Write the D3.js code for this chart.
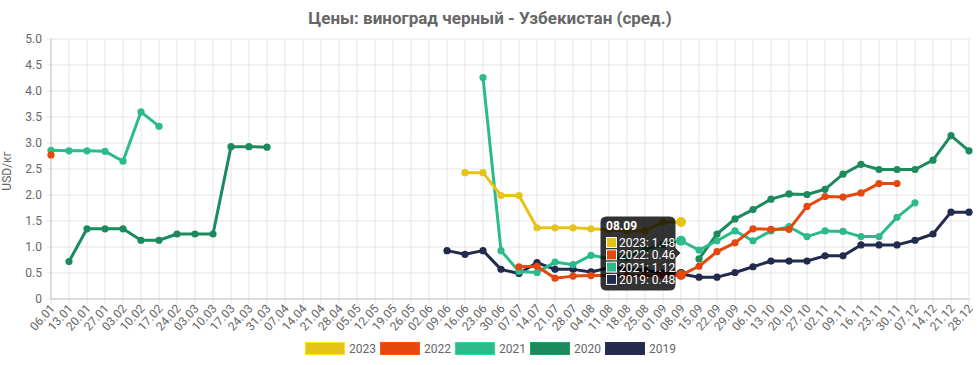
<!DOCTYPE html>
<html><head><meta charset="utf-8">
<script src="https://cdn.jsdelivr.net/npm/d3@7"></script>
<style>body{margin:0;background:#fff}svg{display:block;font-family:Roboto,"Noto Sans",sans-serif}</style>
</head><body><svg id="c" width="979" height="365"></svg>
<script>
const title = "Цены: виноград черный - Узбекистан (сред.)";
const yTitle = "USD/кг";
const categories = ["06.01","13.01","20.01","27.01","03.02","10.02","17.02","24.02","03.03","10.03","17.03","24.03","31.03","07.04","14.04","21.04","28.04","05.05","12.05","19.05","26.05","02.06","09.06","16.06","23.06","30.06","07.07","14.07","21.07","28.07","04.08","11.08","18.08","25.08","01.09","08.09","15.09","22.09","29.09","06.10","13.10","20.10","27.10","02.11","09.11","16.11","23.11","30.11","07.12","14.12","21.12","28.12"];
const yTicks = [0,0.5,1,1.5,2,2.5,3,3.5,4,4.5,5];
const _ = null;
// one value per category (null = no data)
const v2023 = [_,_,_,_,_,_,_,_,_,_,_,_,_,_,_,_,_,_,_,_,_,_,_,2.43,2.43,1.99,1.99,1.37,1.37,1.37,1.35,1.33,1.31,1.31,1.48,1.48,_,_,_,_,_,_,_,_,_,_,_,_,_,_,_,_];
const v2022 = [2.77,_,_,_,_,_,_,_,_,_,_,_,_,_,_,_,_,_,_,_,_,_,_,_,_,_,0.62,0.63,0.40,0.44,0.45,0.45,0.45,0.45,0.45,0.46,0.63,0.91,1.08,1.35,1.34,1.34,1.78,1.97,1.96,2.04,2.22,2.22,_,_,_,_];
const v2021 = [2.86,2.85,2.85,2.84,2.65,3.60,3.32,_,_,_,_,_,_,_,_,_,_,_,_,_,_,_,_,_,4.26,0.93,0.53,0.51,0.71,0.66,0.84,0.78,0.80,0.95,1.05,1.12,0.94,1.12,1.31,1.12,1.31,1.39,1.20,1.31,1.30,1.20,1.20,1.57,1.85,_,_,_];
const v2020 = [_,0.72,1.35,1.35,1.35,1.13,1.13,1.25,1.25,1.25,2.93,2.93,2.92,_,_,_,_,_,_,_,_,_,_,_,_,_,_,_,_,_,_,_,_,_,_,_,0.77,1.25,1.54,1.72,1.92,2.02,2.01,2.11,2.40,2.59,2.49,2.49,2.49,2.67,3.14,2.85];
const v2019 = [_,_,_,_,_,_,_,_,_,_,_,_,_,_,_,_,_,_,_,_,_,_,0.93,0.86,0.93,0.57,0.49,0.70,0.57,0.57,0.52,0.60,0.58,0.55,0.50,0.48,0.42,0.42,0.51,0.62,0.73,0.73,0.73,0.83,0.83,1.04,1.04,1.04,1.13,1.25,1.67,1.67];
const seriesNames = ["2023","2022","2021","2020","2019"];
const seriesColors = ["#e6c417","#e4480c","#2bbb8a","#1b8a5c","#232a4d"];
const seriesValues = [v2023,v2022,v2021,v2020,v2019];
const tooltipIndex = 35;
const tooltipValues = ["1.48","0.46","1.12","0.48"];
const tooltipNames = ["2023","2022","2021","2019"];
const tooltipColors = ["#e6c417","#e4480c","#2bbb8a","#232a4d"];

const svg = d3.select("#c");
const L = 51, R = 969, T = 39, B = 299;
const x = d3.scalePoint().domain(categories).range([L, R]);
const y = d3.scaleLinear().domain([0, 5]).range([B, T]);
const grid = "#e6e6e6", txt = "#666";

// title
svg.append("text").attr("x", 490).attr("y", 24).attr("text-anchor", "middle")
  .attr("font-size", 17).attr("font-weight", "bold").attr("fill", txt).text(title);

// grid
const g = svg.append("g");
g.selectAll(".vg").data(categories).join("line")
  .attr("x1", d => x(d)).attr("x2", d => x(d)).attr("y1", T).attr("y2", B + 5)
  .attr("stroke", grid).attr("stroke-width", 1);
g.selectAll(".hg").data(yTicks).join("line")
  .attr("x1", L - 5).attr("x2", R).attr("y1", d => y(d)).attr("y2", d => y(d))
  .attr("stroke", grid).attr("stroke-width", 1);
g.append("line").attr("x1", L).attr("x2", L).attr("y1", T).attr("y2", B).attr("stroke", "#c4c4c4");
g.append("line").attr("x1", L).attr("x2", R).attr("y1", B).attr("y2", B).attr("stroke", "#c4c4c4");

// y axis labels
const yAxis = d3.axisLeft(y).tickValues(yTicks).tickSize(0).tickPadding(9)
  .tickFormat(d => d === 0 ? "0" : d3.format(".1f")(d));
const ya = svg.append("g").attr("transform", `translate(${L},0)`).call(yAxis);
ya.select(".domain").remove();
ya.selectAll("text").attr("font-size", 12).attr("fill", txt).attr("font-family", "Roboto");

svg.append("text").attr("transform", `translate(11,${(T + B) / 2 + 2}) rotate(-90)`)
  .attr("text-anchor", "middle").attr("font-size", 12).attr("fill", txt).text(yTitle);

// x axis labels
const xAxis = d3.axisBottom(x).tickSize(0).tickPadding(0);
const xa = svg.append("g").attr("transform", `translate(0,${B})`).call(xAxis);
xa.select(".domain").remove();
xa.selectAll("text").attr("font-size", 12).attr("fill", txt).attr("font-family", "Roboto")
  .attr("text-anchor", "end").attr("dy", null).attr("y", 0)
  .attr("transform", "translate(4,10) rotate(-48)");

// series (draw 2019 first so 2023 is on top)
const line = d3.line().defined(d => d.v !== null).x(d => x(d.c)).y(d => y(d.v));
for (let s = seriesValues.length - 1; s >= 0; s--) {
  const data = categories.map((c, i) => ({ c, i, v: seriesValues[s][i] }));
  const sg = svg.append("g");
  sg.append("path").datum(data).attr("d", line).attr("fill", "none")
    .attr("stroke", seriesColors[s]).attr("stroke-width", 3).attr("stroke-linejoin", "round");
  sg.selectAll("circle").data(data.filter(d => d.v !== null)).join("circle")
    .attr("cx", d => x(d.c)).attr("cy", d => y(d.v))
    .attr("r", d => d.i === tooltipIndex ? 5 : 3.6).attr("fill", seriesColors[s]);
}

// legend
const lg = svg.append("g");
seriesNames.forEach((n, i) => {
  const lx = 305 + i * 75;
  lg.append("rect").attr("x", lx + 0.5).attr("y", 342.5).attr("width", 39).attr("height", 12)
    .attr("fill", seriesColors[i]).attr("stroke", d3.color(seriesColors[i]).brighter(0.4)).attr("stroke-width", 1);
  lg.append("text").attr("x", lx + 44).attr("y", 353).attr("font-size", 12).attr("fill", txt).text(n);
});

// tooltip
const tx = 600.5, ty = 216.5, tw = 75, th = 74;
const tt = svg.append("g");
const cy = 253;
tt.append("path").attr("d",
  `M${tx + 6},${ty} H${tx + tw - 6} Q${tx + tw},${ty} ${tx + tw},${ty + 6} V${cy - 5} L${tx + tw + 5},${cy} L${tx + tw},${cy + 5} V${ty + th - 6} Q${tx + tw},${ty + th} ${tx + tw - 6},${ty + th} H${tx + 6} Q${tx},${ty + th} ${tx},${ty + th - 6} V${ty + 6} Q${tx},${ty} ${tx + 6},${ty} Z`)
  .attr("fill", "rgba(0,0,0,0.8)");
tt.append("text").attr("x", 606).attr("y", 230).attr("font-size", 12).attr("font-weight", "bold")
  .attr("fill", "#fff").text(categories[tooltipIndex]);
tooltipNames.forEach((n, i) => {
  const ry = 237 + i * 12.3;
  tt.append("rect").attr("x", 606.5).attr("y", ry + 0.5).attr("width", 10).attr("height", 10)
    .attr("fill", tooltipColors[i]).attr("stroke", "#fff").attr("stroke-width", 1);
  tt.append("text").attr("x", 619).attr("y", ry + 10).attr("font-size", 12).attr("fill", "#fff")
    .text(n + ": " + tooltipValues[i]);
});
</script></body></html>
